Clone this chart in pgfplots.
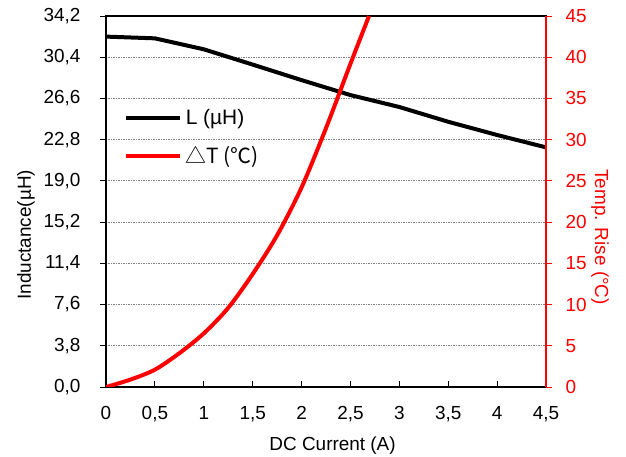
\documentclass[border=0pt]{standalone}
\usepackage{pgfplots}
\pgfplotsset{compat=1.18}
\usepackage{fontspec}
\setmainfont{Liberation Sans}
\newfontfamily\cjk{Noto Sans CJK SC}
\begin{document}
\fontsize{19}{22}\selectfont
\begin{tikzpicture}
\path[use as bounding box] (-106bp,-70bp) rectangle (520bp,387bp);
\begin{axis}[
  at={(0bp,0bp)}, anchor=south west,
  width=440bp, height=371bp, scale only axis,
  xmin=0, xmax=4.5, ymin=0, ymax=34.2,
  xtick={0,0.5,1,1.5,2,2.5,3,3.5,4,4.5},
  ytick={0,3.8,7.6,11.4,15.2,19,22.8,26.6,30.4,34.2},
  xtick pos=bottom, ytick pos=left,
  tick align=inside,
  major tick length=6bp,
  ytick style={xshift=-6bp, black, line width=0.8bp},
  xtick style={black, line width=0.8bp},
  axis line style={line width=1.6bp},
  ymajorgrids,
  major grid style={gray, dash pattern=on 1.5bp off 1bp, line width=0.8bp},
  xticklabel style={/pgf/number format/use comma, /pgf/number format/fixed, /pgf/number format/precision=1, /pgf/number format/assume math mode=true, yshift=-13bp},
  yticklabel style={/pgf/number format/use comma, /pgf/number format/fixed, /pgf/number format/fixed zerofill, /pgf/number format/precision=1, /pgf/number format/assume math mode=true, xshift=-19bp},
  xlabel={DC Current (A)},
  xlabel style={at={(axis description cs:0.515,-0.158)}, anchor=center},
  ylabel={Inductance(µH)},
  ylabel style={at={(axis description cs:-0.182,0.41)}, anchor=center},
  legend style={draw=none, fill=none, at={(0.04,0.755)}, anchor=north west, row sep=15bp, inner sep=0pt, font=\fontsize{21}{24}\selectfont, nodes={inner xsep=4bp}},
  legend cell align=left,
  legend image code/.code={\draw[#1] (0bp,0bp) -- (54bp,0bp);},
]
\addplot[black, line width=4bp] coordinates {
(0,32.3) (0.5,32.14) (1,31.13) (1.5,29.72) (2,28.29) (2.5,26.91) (3,25.81) (3.5,24.45) (4,23.23) (4.5,22.09)};
\addlegendentry{L (µH)}
\addlegendimage{red, line width=4bp}
\addlegendentry{{\cjk △T (℃)}}
\end{axis}
\begin{axis}[
  at={(0bp,0bp)}, anchor=south west,
  width=440bp, height=371bp, scale only axis,
  xmin=0, xmax=4.5, ymin=0, ymax=45,
  axis x line=none, axis y line*=right,
  ytick={0,5,10,15,20,25,30,35,40,45},
  tick align=inside,
  major tick length=6bp,
  ytick style={xshift=6bp, red, line width=0.8bp},
  y axis line style={red, line width=1.6bp},
  yticklabel style={red, xshift=13bp, /pgf/number format/assume math mode=true},
  ylabel={Temp. Rise (°C)},
  ylabel style={red, at={(axis description cs:1.123,0.404)}, anchor=center, rotate=180},
]
\addplot[red, line width=4bp, smooth, tension=0.5] coordinates {
(0,0) (0.25,0.9) (0.5,2.1) (0.75,4.1) (1,6.5) (1.25,9.6) (1.5,13.7) (1.75,18.4) (2,24.2) (2.25,31.4) (2.5,39.2) (2.69,45)};
\end{axis}
\end{tikzpicture}
\end{document}
